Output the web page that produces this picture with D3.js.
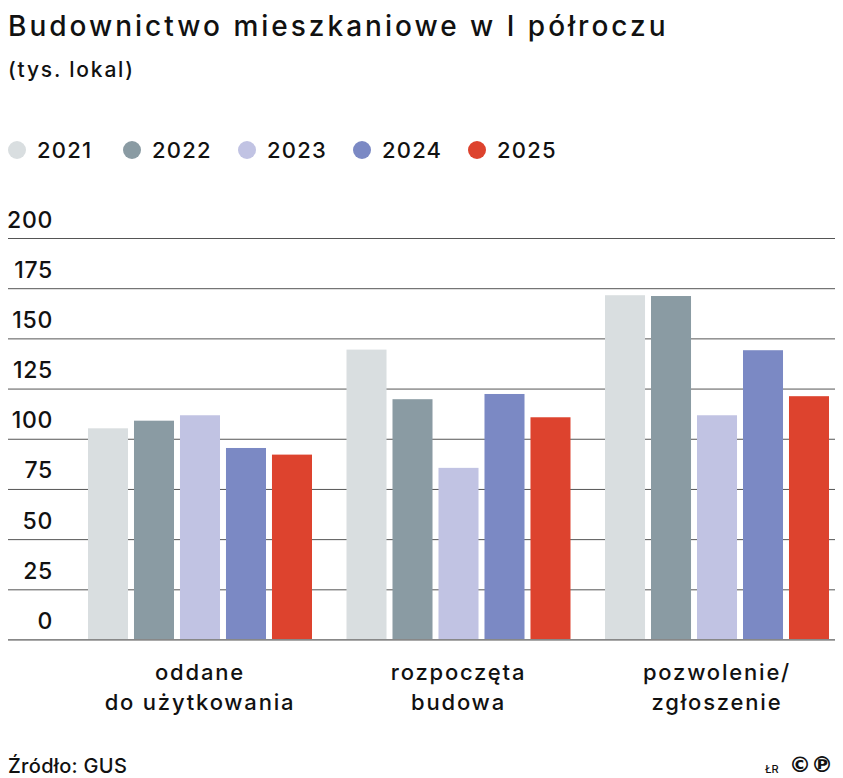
<!DOCTYPE html>
<html>
<head>
<meta charset="utf-8">
<script src="https://cdn.jsdelivr.net/npm/d3@7"></script>
<style>
  body { margin: 0; background: #fff; }
  svg { display: block; font-family: Inter, "Noto Sans", sans-serif; font-weight: 500; }
</style>
</head>
<body>
<script>
// chart data
const categories = ["oddane do użytkowania", "rozpoczęta budowa", "pozwolenie/ zgłoszenie"];
const categoryLines = [["oddane", "do użytkowania"], ["rozpoczęta", "budowa"], ["pozwolenie/", "zgłoszenie"]];
const years = ["2021", "2022", "2023", "2024", "2025"];
const values2021 = [105.2, 144.4, 171.5];
const values2022 = [109.0, 119.7, 171.1];
const values2023 = [111.7, 85.5, 111.7];
const values2024 = [95.4, 122.3, 144.1];
const values2025 = [92.1, 110.7, 121.2];
const yTicks = [0, 25, 50, 75, 100, 125, 150, 175, 200];
const yearColors = ["#d9dee0", "#8a9ba3", "#c1c3e3", "#7b89c4", "#dd432e"];

const valuesByYear = [values2021, values2022, values2023, values2024, values2025];
const rows = categories.map((c, i) => ({
  category: c,
  values: years.map((y, j) => ({ year: y, value: valuesByYear[j][i] }))
}));

// svg size
const width = 843,
  height = 778;

const svg = d3
  .select("body")
  .append("svg")
  .attr("width", width)
  .attr("height", height);

// scales
const yScale = d3.scaleLinear().domain([0, 200]).range([639.5, 238]);

const x0 = d3
  .scaleBand()
  .domain(categories)
  .range([70.75, 846.25])
  .paddingInner(0.1335)
  .paddingOuter(0.0667);

const x1 = d3
  .scaleBand()
  .domain(years)
  .range([0, x0.bandwidth()])
  .paddingInner(0.13);

const color = d3.scaleOrdinal().domain(years).range(yearColors);

// title
svg
  .append("text")
  .attr("x", 8)
  .attr("y", 36)
  .attr("font-size", 28)
  .attr("letter-spacing", 3)
  .attr("fill", "#111")
  .text("Budownictwo mieszkaniowe w I półroczu");

svg
  .append("text")
  .attr("x", 8)
  .attr("y", 77)
  .attr("font-size", 21)
  .attr("letter-spacing", 1.8)
  .attr("fill", "#111")
  .text("(tys. lokal)");

// legend
const legend = svg
  .append("g")
  .selectAll("g")
  .data(years)
  .enter()
  .append("g")
  .attr("transform", (d, i) => `translate(${17 + i * 115},150)`);

legend
  .append("circle")
  .attr("r", 9)
  .attr("fill", (d) => color(d));

legend
  .append("text")
  .attr("x", 20)
  .attr("y", 8)
  .attr("font-size", 22)
  .attr("letter-spacing", 1.2)
  .attr("fill", "#111")
  .text((d) => d);

// gridlines + y labels
const yAxis = d3.axisRight(yScale).tickValues(yTicks).tickSize(827);

const gy = svg
  .append("g")
  .attr("transform", "translate(8,0)")
  .call(yAxis)
  .attr("font-family", null)
  .attr("font-size", null);

gy.select(".domain").remove();
gy.selectAll(".tick line").attr("stroke", "#555");
gy.selectAll(".tick text")
  .attr("x", 45)
  .attr("y", -11)
  .attr("dy", 0)
  .attr("text-anchor", "end")
  .attr("font-size", 23)
  .attr("letter-spacing", 0.7)
  .attr("fill", "#111");

// bars
const groups = svg
  .append("g")
  .selectAll("g")
  .data(rows)
  .enter()
  .append("g")
  .attr("transform", (d) => `translate(${x0(d.category)},0)`);

groups
  .selectAll("rect")
  .data((d) => d.values)
  .enter()
  .append("rect")
  .attr("x", (d) => x1(d.year))
  .attr("y", (d) => yScale(d.value))
  .attr("width", x1.bandwidth())
  .attr("height", (d) => yScale(0) - yScale(d.value))
  .attr("fill", (d) => color(d.year));

// baseline
svg
  .append("line")
  .attr("x1", 8)
  .attr("x2", 835)
  .attr("y1", yScale(0))
  .attr("y2", yScale(0))
  .attr("stroke", "#888");

// x axis labels
const xAxis = d3.axisBottom(x0).tickSize(0).tickFormat("");
const gx = svg
  .append("g")
  .attr("transform", `translate(0,${yScale(0)})`)
  .call(xAxis)
  .attr("font-family", null)
  .attr("font-size", null);
gx.select(".domain").remove();

gx.selectAll(".tick")
  .append("text")
  .attr("text-anchor", "middle")
  .attr("font-size", 22)
  .attr("letter-spacing", 1.8)
  .attr("fill", "#111")
  .selectAll("tspan")
  .data((d, i) => categoryLines[i])
  .enter()
  .append("tspan")
  .attr("x", 0)
  .attr("y", (d, i) => 40 + i * 30)
  .text((d) => d);

// footer
svg
  .append("text")
  .attr("x", 8)
  .attr("y", 773)
  .attr("font-size", 20)
  .attr("letter-spacing", 0.3)
  .attr("fill", "#111")
  .text("Źródło: GUS");

svg
  .append("text")
  .attr("x", 765)
  .attr("y", 773)
  .attr("font-size", 11)
  .attr("fill", "#111")
  .text("ŁR");

svg
  .append("text")
  .attr("x", 789)
  .attr("y", 772)
  .attr("font-size", 22)
  .attr("font-weight", 700)
  .attr("font-family", "DejaVu Sans")
  .attr("fill", "#111")
  .text("©℗");
</script>
</body>
</html>
